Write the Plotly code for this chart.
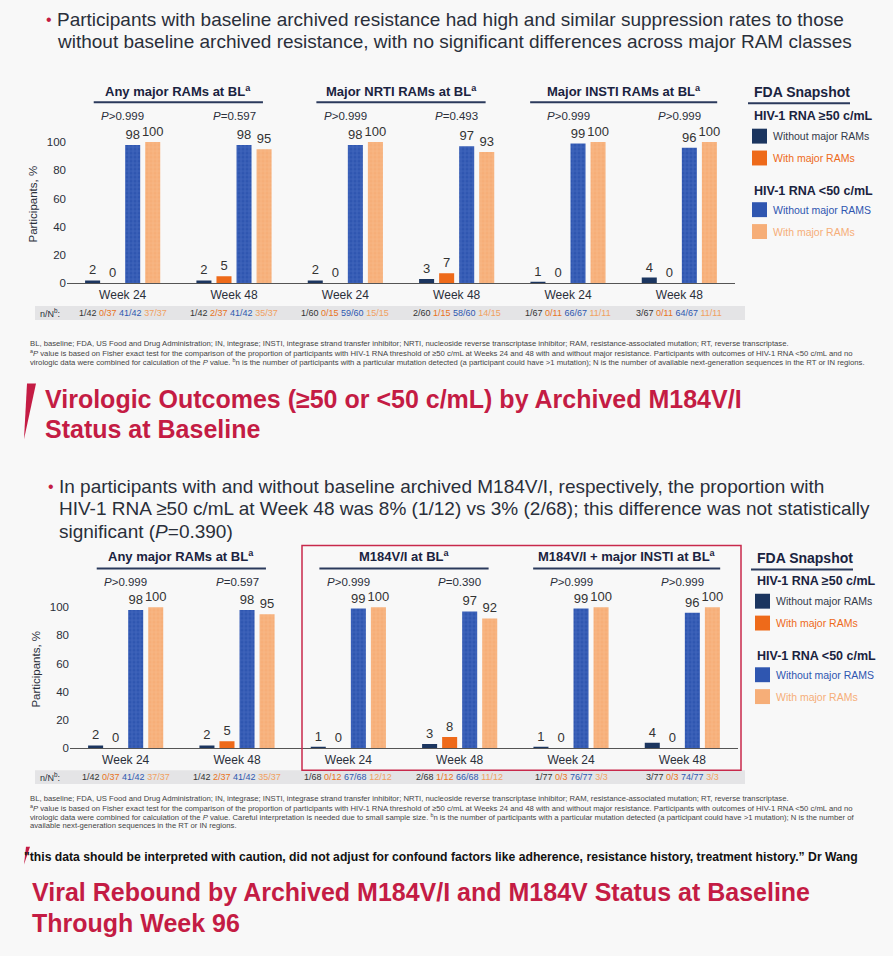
import plotly.graph_objects as go

W, H = 893, 956

weeks = ["Week 24", "Week 48", "Week 24", "Week 48", "Week 24", "Week 48"]

# top panel: any / NRTI / INSTI
top_headers = ["Any major RAMs at BL<sup>a</sup>", "Major NRTI RAMs at BL<sup>a</sup>",
               "Major INSTI RAMs at BL<sup>a</sup>"]
top_pvals = ["<i>P</i>>0.999", "<i>P</i>=0.597", "<i>P</i>>0.999", "<i>P</i>=0.493",
             "<i>P</i>>0.999", "<i>P</i>>0.999"]
top_ge50_without = [2, 2, 2, 3, 1, 4]
top_ge50_with = [0, 5, 0, 7, 0, 0]
top_lt50_without = [98, 98, 98, 97, 99, 96]
top_lt50_with = [100, 95, 100, 93, 100, 100]
top_nN = [["1/42", "0/37", "41/42", "37/37"], ["1/42", "2/37", "41/42", "35/37"],
          ["1/60", "0/15", "59/60", "15/15"], ["2/60", "1/15", "58/60", "14/15"],
          ["1/67", "0/11", "66/67", "11/11"], ["3/67", "0/11", "64/67", "11/11"]]

# bottom panel: any / M184V/I / M184V/I + INSTI
bot_headers = ["Any major RAMs at BL<sup>a</sup>", "M184V/I at BL<sup>a</sup>",
               "M184V/I + major INSTI at BL<sup>a</sup>"]
bot_pvals = ["<i>P</i>>0.999", "<i>P</i>=0.597", "<i>P</i>>0.999", "<i>P</i>=0.390",
             "<i>P</i>>0.999", "<i>P</i>>0.999"]
bot_ge50_without = [2, 2, 1, 3, 1, 4]
bot_ge50_with = [0, 5, 0, 8, 0, 0]
bot_lt50_without = [98, 98, 99, 97, 99, 96]
bot_lt50_with = [100, 95, 100, 92, 100, 100]
bot_nN = [["1/42", "0/37", "41/42", "37/37"], ["1/42", "2/37", "41/42", "35/37"],
          ["1/68", "0/12", "67/68", "12/12"], ["2/68", "1/12", "66/68", "11/12"],
          ["1/77", "0/3", "76/77", "3/3"], ["3/77", "0/3", "74/77", "3/3"]]

series_names = ["Without major RAMs", "With major RAMs", "Without major RAMS", "With major RAMs"]

NAVY = "#1b355f"
ORANGE = "#ee6a1a"
BLUE = "#2f56b0"
BLUE_FG = "#6a8ad6"
LORANGE = "#f6ae78"
LORANGE_FG = "#fbcaa0"
RED = "#c41c44"
TXT = "#2a2f3a"
HEAD = "#1a2340"
NUM_COLORS = ["#333333", "#e8731c", "#2f58b0", "#f0a060"]

FONT = "Liberation Sans, Arial, sans-serif"


def px(x):
    return x / W


def py(y):
    return 1 - y / H


fig = go.Figure()

panels = [
    dict(xa="x", ya="y", vals=[top_ge50_without, top_ge50_with, top_lt50_without, top_lt50_with],
         x0=67, x1=735, base=285, headers=top_headers, pvals=top_pvals, nN=top_nN,
         head_y=92, line_y=103, head_w=[0.76, 0.76, 0.84], p_y=117, nN_y=315),
    dict(xa="x2", ya="y2", vals=[bot_ge50_without, bot_ge50_with, bot_lt50_without, bot_lt50_with],
         x0=70, x1=738, base=753, headers=bot_headers, pvals=bot_pvals, nN=bot_nN,
         head_y=560, line_y=572, head_w=[0.76, 0.76, 0.84], p_y=586, nN_y=782),
]

styles = [
    dict(color=NAVY),
    dict(color=ORANGE),
    dict(color=BLUE, pattern=dict(shape="+", fgcolor=BLUE_FG, bgcolor=BLUE, size=4, solidity=0.25)),
    dict(color=LORANGE, pattern=dict(shape="+", fgcolor=LORANGE_FG, bgcolor=LORANGE, size=4, solidity=0.25)),
]

for p in panels:
    for name, vals, st in zip(series_names, p["vals"], styles):
        fig.add_trace(go.Bar(
            x=list(range(len(weeks))), y=vals, name=name, xaxis=p["xa"], yaxis=p["ya"],
            marker=dict(line=dict(width=0), **st),
            text=vals, textposition="outside", cliponaxis=False,
            textfont=dict(size=13, color="#333333", family=FONT),
            hoverinfo="skip", showlegend=False,
        ))

PXU = 1.42  # pixels per percentage point
for i, p in enumerate(panels):
    sfx = "" if i == 0 else "2"
    top = p["base"] - 112 * PXU
    fig.update_layout(**{
        "xaxis" + sfx: dict(domain=[px(p["x0"]), px(p["x1"])], range=[-0.5, 5.5],
                            tickvals=list(range(6)), ticktext=weeks, showline=True,
                            linecolor="#555555", linewidth=1, ticks="", showgrid=False,
                            zeroline=False, tickfont=dict(size=12, color=TXT, family=FONT),
                            anchor="y" + sfx, fixedrange=True),
        "yaxis" + sfx: dict(domain=[py(p["base"]), py(top)], range=[0, 112],
                            tickvals=[0, 20, 40, 60, 80, 100], showgrid=False, zeroline=False,
                            showline=False, ticks="", tickfont=dict(size=11.5, color=TXT, family=FONT),
                            title=dict(text="Participants, %", font=dict(size=11.5, color=TXT, family=FONT),
                                       standoff=6),
                            anchor="x" + sfx, fixedrange=True),
    })

ann = []
shapes = []

for p in panels:
    for k, h in enumerate(p["headers"]):
        cx = 2 * k + 0.5
        ann.append(dict(x=cx, xref=p["xa"], y=py(p["head_y"]), yref="paper", text="<b>" + h + "</b>",
                        showarrow=False, font=dict(size=13, color=HEAD, family=FONT),
                        xanchor="center", yanchor="middle"))
        shapes.append(dict(type="line", xref=p["xa"], yref="paper", x0=cx - p["head_w"][k],
                           x1=cx + p["head_w"][k], y0=py(p["line_y"]), y1=py(p["line_y"]),
                           line=dict(color="#2b3a5c", width=2)))
    for j, pv in enumerate(p["pvals"]):
        ann.append(dict(x=j, xref=p["xa"], y=py(p["p_y"]), yref="paper", text=pv, showarrow=False,
                        font=dict(size=11.5, color=TXT, family=FONT), xanchor="center", yanchor="middle"))
    # n/N row
    shapes.append(dict(type="rect", xref="paper", yref="paper", x0=px(35), x1=px(745),
                       y0=py(p["nN_y"] + 7), y1=py(p["nN_y"] - 7), fillcolor="#e4e4e6",
                       line=dict(width=0), layer="below"))
    ann.append(dict(x=px(38), y=py(p["nN_y"]), xref="paper", yref="paper", text="n/N<sup>b</sup>:",
                    showarrow=False, xanchor="left", yanchor="middle",
                    font=dict(size=9, color=TXT, family=FONT)))
    for j, grp in enumerate(p["nN"]):
        txt = " ".join("<span style='color:%s'>%s</span>" % (c, v) for c, v in zip(NUM_COLORS, grp))
        ann.append(dict(x=j, xref=p["xa"], y=py(p["nN_y"]), yref="paper", text=txt, showarrow=False,
                        xanchor="center", yanchor="middle", font=dict(size=9, family=FONT)))

# legends
legend_items = [
    ("<b>HIV-1 RNA ≥50 c/mL</b>", None, None),
    ("Without major RAMs", NAVY, "#333a4a"),
    ("With major RAMs", ORANGE, ORANGE),
    ("<b>HIV-1 RNA <50 c/mL</b>", None, None),
    ("Without major RAMS", BLUE, BLUE),
    ("With major RAMs", LORANGE, LORANGE),
]
for lx, ly, offs in [(752, 93, [117, 137, 159, 192, 211, 233]), (755, 562, [585, 605, 627, 660, 679, 701])]:
    ann.append(dict(x=px(lx), y=py(ly), xref="paper", yref="paper", text="<b>FDA Snapshot</b>",
                    showarrow=False, xanchor="left", yanchor="middle",
                    font=dict(size=14, color=HEAD, family=FONT)))
    shapes.append(dict(type="line", xref="paper", yref="paper", x0=px(lx - 4), x1=px(lx + 98),
                       y0=py(ly + 11), y1=py(ly + 11), line=dict(color="#2b3a5c", width=2)))
    for (label, sw, tc), yy in zip(legend_items, offs):
        if sw is None:
            ann.append(dict(x=px(lx), y=py(yy), xref="paper", yref="paper", text=label,
                            showarrow=False, xanchor="left", yanchor="middle",
                            font=dict(size=12.5, color=HEAD, family=FONT)))
        else:
            shapes.append(dict(type="rect", xref="paper", yref="paper", x0=px(lx), x1=px(lx + 15),
                               y0=py(yy + 7.5), y1=py(yy - 7.5), fillcolor=sw, line=dict(width=0)))
            ann.append(dict(x=px(lx + 19), y=py(yy), xref="paper", yref="paper", text=label,
                            showarrow=False, xanchor="left", yanchor="middle",
                            font=dict(size=10.5, color=tc, family=FONT)))

# red box around M184V/I panels
shapes.append(dict(type="rect", xref="paper", yref="paper", x0=px(302), x1=px(741), y0=py(775), y1=py(549),
                   line=dict(color="#c8294b", width=1.5)))

# slide text
bullet1 = ["Participants with baseline archived resistance had high and similar suppression rates to those",
           "without baseline archived resistance, with no significant differences across major RAM classes"]
bullet2 = ["In participants with and without baseline archived M184V/I, respectively, the proportion with",
           "HIV-1 RNA ≥50 c/mL at Week 48 was 8% (1/12) vs 3% (2/68); this difference was not statistically",
           "significant (<i>P</i>=0.390)"]
title1 = ["Virologic Outcomes (≥50 or <50 c/mL) by Archived M184V/I", "Status at Baseline"]
title2 = ["Viral Rebound by Archived M184V/I and M184V Status at Baseline", "Through Week 96"]
foot_common = "BL, baseline; FDA, US Food and Drug Administration; IN, integrase; INSTI, integrase strand transfer inhibitor; NRTI, nucleoside reverse transcriptase inhibitor; RAM, resistance-associated mutation; RT, reverse transcriptase."
foot_a = "<sup>a</sup><i>P</i> value is based on Fisher exact test for the comparison of the proportion of participants with HIV-1 RNA threshold of ≥50 c/mL at Weeks 24 and 48 with and without major resistance. Participants with outcomes of HIV-1 RNA <50 c/mL and no"
foot1 = [foot_common, foot_a,
         "virologic data were combined for calculation of the <i>P</i> value. <sup>b</sup>n is the number of participants with a particular mutation detected (a participant could have >1 mutation); N is the number of available next-generation sequences in the RT or IN regions."]
foot2 = [foot_common, foot_a,
         "virologic data were combined for calculation of the <i>P</i> value. Careful interpretation is needed due to small sample size. <sup>b</sup>n is the number of participants with a particular mutation detected (a participant could have >1 mutation); N is the number of",
         "available next-generation sequences in the RT or IN regions."]
quote = "\"this data should be interpreted with caution, did not adjust for confound factors like adherence, resistance history, treatment history.” Dr Wang"


def text_line(x, y, s, size, color, family=FONT):
    ann.append(dict(x=px(x), y=py(y), xref="paper", yref="paper", text=s, showarrow=False,
                    xanchor="left", yanchor="middle", font=dict(size=size, color=color, family=family)))


text_line(44, 20, "•", 16, RED)
for s, yy in zip(bullet1, [20, 42]):
    text_line(55, yy, s, 19, TXT)
text_line(46, 490, "•", 16, RED)
for s, yy in zip(bullet2, [490, 512, 535]):
    text_line(57, yy, s, 19, TXT)
for s, yy in zip(title1, [402, 432]):
    text_line(43, yy, "<b>" + s + "</b>", 25, RED)
for s, yy in zip(title2, [898, 929]):
    text_line(30, yy, "<b>" + s + "</b>", 25, RED)
for s, yy in zip(foot1, [346, 355, 364]):
    text_line(28, yy, s, 7.7, "#444444")
for s, yy in zip(foot2, [804, 813, 822, 831]):
    text_line(28, yy, s, 7.7, "#444444")
text_line(22, 862, "<b>" + quote + "</b>", 12.2, "#111111")

# red accent marks next to titles
shapes.append(dict(type="path", xref="paper", yref="paper",
                   path="M %f %f L %f %f L %f %f Z" % (px(27), py(386), px(36), py(386), px(24), py(442)),
                   fillcolor=RED, line=dict(width=0)))
shapes.append(dict(type="path", xref="paper", yref="paper",
                   path="M %f %f L %f %f L %f %f Z" % (px(26), py(852), px(30), py(852), px(24), py(870)),
                   fillcolor=RED, line=dict(width=0)))

fig.update_layout(
    width=W, height=H, margin=dict(l=0, r=0, t=0, b=0),
    paper_bgcolor="#f8f8f8", plot_bgcolor="rgba(0,0,0,0)",
    barmode="group", bargap=0.28, bargroupgap=0.25,
    uniformtext=dict(minsize=13, mode="show"),
    annotations=ann, shapes=shapes, font=dict(family=FONT),
)

fig.write_html("out.html", config={"displayModeBar": False},
               post_script="document.body.style.margin='0';")
